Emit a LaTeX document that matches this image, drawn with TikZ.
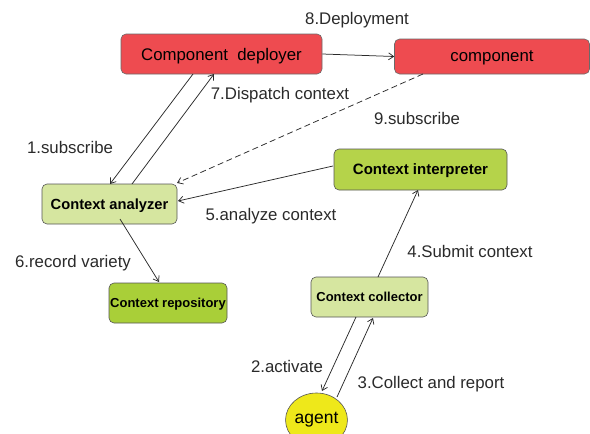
\documentclass[tikz,border=0pt]{standalone}
\usepackage{fontspec}
\setmainfont{Liberation Sans}
\usetikzlibrary{arrows.meta,shapes.geometric}
\definecolor{cred}{HTML}{EE4B50}
\definecolor{cint}{HTML}{B5D34A}
\definecolor{clight}{HTML}{D6E6A0}
\definecolor{crep}{HTML}{A9CF38}
\definecolor{cagent}{HTML}{EEE81A}
\definecolor{cline}{HTML}{2A2A2A}
\tikzset{
  redbox/.style={draw=cline!70, line width=0.6pt, fill=cred, rounded corners=5pt, inner sep=0pt, text depth=0pt, font=\fontsize{16.8}{18}\selectfont},
  greenbox/.style={draw=cline!80, line width=0.6pt, rounded corners=5pt, inner sep=0pt, text depth=0pt, font=\bfseries},
  lbl/.style={font=\fontsize{16.8}{18}\selectfont, text=cline, inner sep=0pt},
  conn/.style={draw=cline, line width=0.75pt, -{Straight Barb[length=5pt,width=7pt]}},
}
\begin{document}
\begin{tikzpicture}[x=1pt,y=-1pt]
\useasboundingbox (0,0) rectangle (590,434);
% nodes
\node[redbox, minimum width=201pt, minimum height=40pt] (dep) at (221.5,54) {Component\ \ deployer};
\node[redbox, minimum width=195pt, minimum height=35pt] (comp) at (492,56.5) {component};
\node[greenbox, fill=cint, minimum width=173pt, minimum height=41pt, font=\bfseries\fontsize{15}{16}\selectfont] (int) at (420.5,169.5) {Context interpreter};
\node[greenbox, fill=clight, minimum width=135pt, minimum height=40pt, font=\bfseries\fontsize{14.7}{16}\selectfont] (an) at (109.5,204) {Context analyzer};
\node[greenbox, fill=crep, minimum width=118pt, minimum height=40pt, font=\bfseries\fontsize{13}{14}\selectfont] (rep) at (168,303) {Context repository};
\node[greenbox, fill=clight, minimum width=117pt, minimum height=40pt, font=\bfseries\fontsize{13}{14}\selectfont] (col) at (369.5,297) {Context collector};
\node[draw=cline!80, line width=0.6pt, fill=cagent, ellipse, minimum width=55pt, minimum height=54pt, inner sep=0pt, font=\fontsize{17.5}{18}\selectfont] (ag) at (316.5,420) {agent};
% labels
\node[lbl] (l8) at (357,20) {8.Deployment};
\node[lbl] (l7) at (280,95) {7.Dispatch context};
\node[lbl] (l9) at (417,118) {9.subscribe};
\node[lbl] (l1) at (70,147) {1.subscribe};
\node[lbl] (l5) at (271,216) {5.analyze context};
\node[lbl] (l6) at (73,263) {6.record variety};
\node[lbl] (l4) at (470,251) {4.Submit context};
\node[lbl] (l2) at (287,366) {2.activate};
\node[lbl] (l3) at (431,384) {3.Collect and report};
% connectors
\coordinate (d1) at (193,74);
\coordinate (a1) at (110,184);
\coordinate (a2) at (132,184);
\coordinate (d2) at (214,74);
\draw[conn] (d1) -- (a1);
\draw[conn] (a2) -- (d2);
\draw[conn] (dep.east) -- (comp.west);
\coordinate (c1) at (423,74);
\coordinate (a3) at (177,183);
\draw[conn, dash pattern=on 6pt off 3.5pt] (c1) -- (a3);
\coordinate (i1) at (333,166);
\coordinate (a4) at (178,201);
\draw[conn] (i1) -- (a4);
\coordinate (a5) at (120,219);
\coordinate (r1) at (159,282);
\draw[conn] (a5) -- (r1);
\coordinate (k1) at (378,277);
\coordinate (i2) at (418,190);
\draw[conn] (k1) -- (i2);
\coordinate (k2) at (356,317);
\coordinate (g1) at (322,391);
\draw[conn] (k2) -- (g1);
\coordinate (g2) at (337,397);
\coordinate (k3) at (373,318);
\draw[conn] (g2) -- (k3);
\end{tikzpicture}
\end{document}
